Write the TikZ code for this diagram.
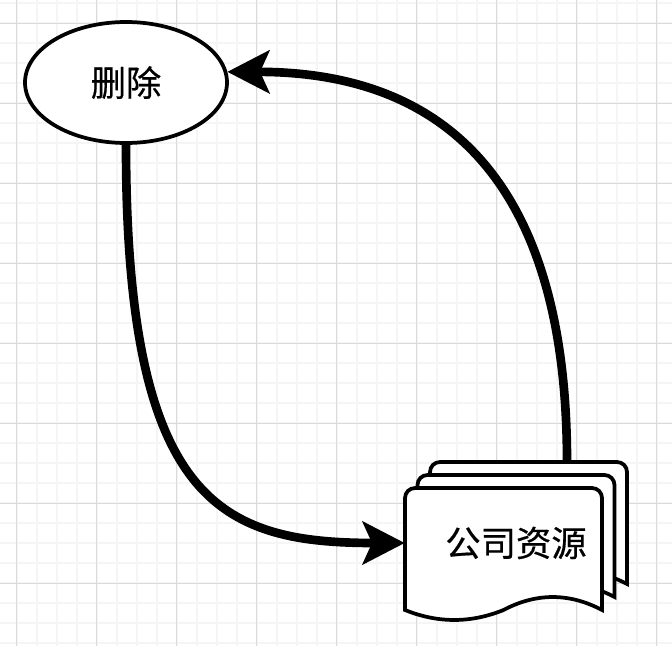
\documentclass[tikz,border=0pt]{standalone}
\usepackage{fontspec}
\newfontfamily\cjk[FakeBold=0.5]{Noto Sans CJK SC}
\usetikzlibrary{arrows.meta,shapes.geometric}
\definecolor{gridminor}{HTML}{F5F5F5}
\definecolor{gridmajor}{HTML}{DADADA}
\tikzset{
  outline/.style={draw=black,line width=2.8pt,fill=white},
  flowarrow/.style={line width=6.5pt,-{Stealth[length=31.5pt,width=32pt,inset=7pt]}},
  cjktext/.style={font=\cjk\fontsize{26.5pt}{30pt}\selectfont}
}
\begin{document}
\begin{tikzpicture}[x=0.75pt,y=-0.75pt]
\fill[white] (0,0) rectangle (672,646);
\useasboundingbox (0,0) rectangle (672,646);
% grid
\foreach \i in {0,...,34} \draw[gridminor,line width=1.5pt] ({20*\i-3.3},0) -- ({20*\i-3.3},646);
\foreach \i in {0,...,32} \draw[gridminor,line width=1.5pt] (0,{20*\i+3.3}) -- (672,{20*\i+3.3});
\foreach \i in {0,...,8} \draw[gridmajor,line width=0.75pt] ({80*\i+16.7},0) -- ({80*\i+16.7},646);
\foreach \i in {0,...,7} \draw[gridmajor,line width=0.75pt] (0,{80*\i+23.3}) -- (672,{80*\i+23.3});
% stacked documents
\foreach \dx/\dy in {25/26,12.5/13,0/0}
  \draw[outline,shift={(405+\dx,488-\dy)}] (0,60) [rounded corners=7.5pt] -- (0,0) -- (197,0) [sharp corners] -- (197,122)
    .. controls (164.2,104.7) and (131.3,104.7) .. (98.5,122)
    .. controls (65.7,135.3) and (32.8,135.3) .. (0,122) -- cycle;
\node[outline,ellipse,minimum width=151.5pt,minimum height=90.75pt,cjktext] (del) at (126,82.5) {删除};
\node[cjktext,minimum width=166.5pt,minimum height=121.5pt] (res) at (516,543) {公司资源};
\coordinate (src) at ([xshift=38.25pt]res.north);
% connectors
\draw[flowarrow] (del.south) .. controls +(0,357) and +(-185,0) .. (res.west);
\draw[flowarrow] (src) .. controls +(0,-310) and +(190,0) .. (del.6);
\end{tikzpicture}
\end{document}
